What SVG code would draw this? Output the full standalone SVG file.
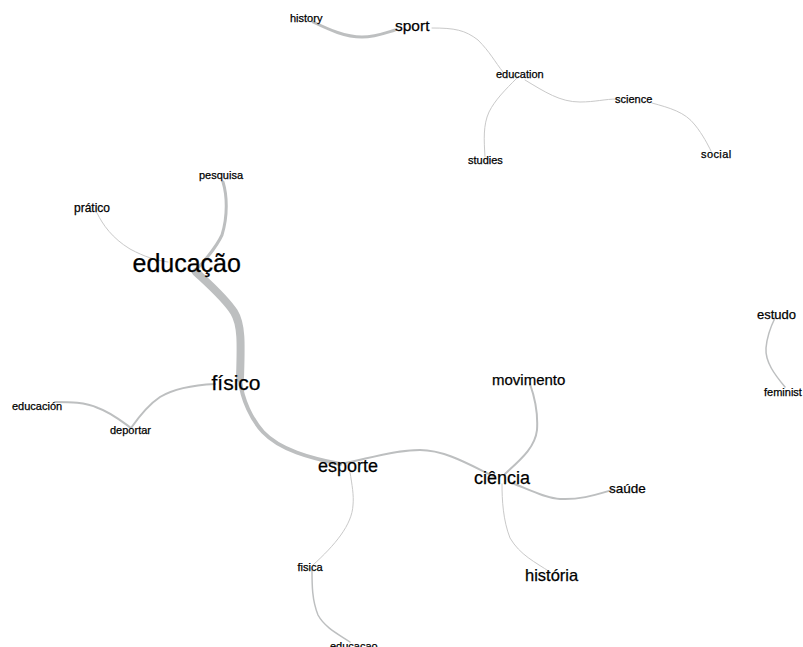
<svg xmlns="http://www.w3.org/2000/svg" width="803" height="647" viewBox="0 0 803 647">
<style>
.e{fill:none;stroke:#bdbfc0;stroke-linecap:round}
.t{stroke-width:1;stroke:#c9c9c9}
text{font-family:"Liberation Sans",Arial,sans-serif;fill:#000000;stroke:#000000;stroke-width:0.25}
.s{font-size:11px}
</style>
<rect width="803" height="647" fill="#ffffff"/>
<g id="connectors">
<path class="e" stroke-width="3" d="M313,22 C330,30 345,37 362,37 C375,37 385,33 395,30"/>
<path class="e t" d="M432,28 C455,28 465,30 478,40 C490,52 495,62 503,72"/>
<path class="e t" d="M525,80 C545,92 560,102 580,102 C595,102 605,99 617,99"/>
<path class="e t" d="M652,103 C670,108 685,112 695,125 C703,135 708,145 711,151"/>
<path class="e t" d="M517,78 C505,90 495,100 489,112 C483,125 484,140 485,157"/>
<path class="e" stroke-width="3" d="M223,182 C227,195 228,215 222,235 C215,250 205,260 196,270"/>
<path class="e t" d="M97,213 C103,225 112,238 130,249 C145,257 155,260 168,262"/>
<path class="e" stroke-width="8" d="M196,272 C210,285 225,298 234,312 C242,325 241,345 240,378"/>
<path class="e" stroke-width="4" d="M240,380 C242,400 252,420 263,432 C280,450 310,458 340,464"/>
<path class="e" stroke-width="2" d="M215,384 C195,385 175,388 160,397 C148,405 138,418 131,428"/>
<path class="e" stroke-width="2" d="M131,428 C120,420 110,412 98,408 C85,402 70,402 55,402"/>
<path class="e" stroke-width="2" d="M345,463 C370,458 395,450 420,450 C445,450 470,465 495,477"/>
<path class="e t" d="M350,472 C352,485 354,495 353,505 C352,525 335,545 313,565"/>
<path class="e" stroke-width="1.5" d="M312,570 C312,585 312,600 318,615 C325,628 340,635 350,642"/>
<path class="e" stroke-width="2" d="M530,384 C535,398 538,415 537,430 C535,448 520,460 505,474"/>
<path class="e" stroke-width="2" d="M512,483 C530,490 545,498 560,499 C580,500 595,495 612,490"/>
<path class="e t" d="M502,484 C502,500 503,520 510,538 C520,555 535,562 550,572"/>
<path class="e" stroke-width="1.5" d="M775,318 C770,328 767,337 766,348 C765,362 775,375 785,387"/>
</g>
<g id="n-history"><text class="s" x="290" y="22">history</text></g>
<g id="n-sport"><text x="395" y="31" font-size="15.5">sport</text></g>
<g id="n-education"><text class="s" x="496" y="78">education</text></g>
<g id="n-science"><text class="s" x="615" y="102.5">science</text></g>
<g id="n-social"><text class="s" x="701" y="158" letter-spacing="0.4">social</text></g>
<g id="n-studies"><text class="s" x="468" y="163.5">studies</text></g>
<g id="n-pesquisa"><text class="s" x="199" y="179">pesquisa</text></g>
<g id="n-pratico"><text x="74" y="212" font-size="12">prático</text></g>
<g id="n-educacao"><text x="132.5" y="272" font-size="25">educação</text></g>
<g id="n-fisico"><text x="211.5" y="389.5" font-size="21">físico</text></g>
<g id="n-educacion"><text class="s" x="12" y="410">educación</text></g>
<g id="n-deportar"><text class="s" x="110" y="433.5">deportar</text></g>
<g id="n-esporte"><text x="318" y="472" font-size="18">esporte</text></g>
<g id="n-fisica"><text class="s" x="297.5" y="570.5">fisica</text></g>
<g id="n-educacao2"><text class="s" x="330" y="650">educacao</text></g>
<g id="n-movimento"><text x="492" y="384.5" font-size="15">movimento</text></g>
<g id="n-ciencia"><text x="474" y="484" font-size="18">ciência</text></g>
<g id="n-saude"><text x="609" y="492.5" font-size="13.5">saúde</text></g>
<g id="n-historia"><text x="525" y="581" font-size="16.5">história</text></g>
<g id="n-estudo"><text x="757" y="319" font-size="13">estudo</text></g>
<g id="n-feminist"><text class="s" x="764" y="396">feminist</text></g>
</svg>
